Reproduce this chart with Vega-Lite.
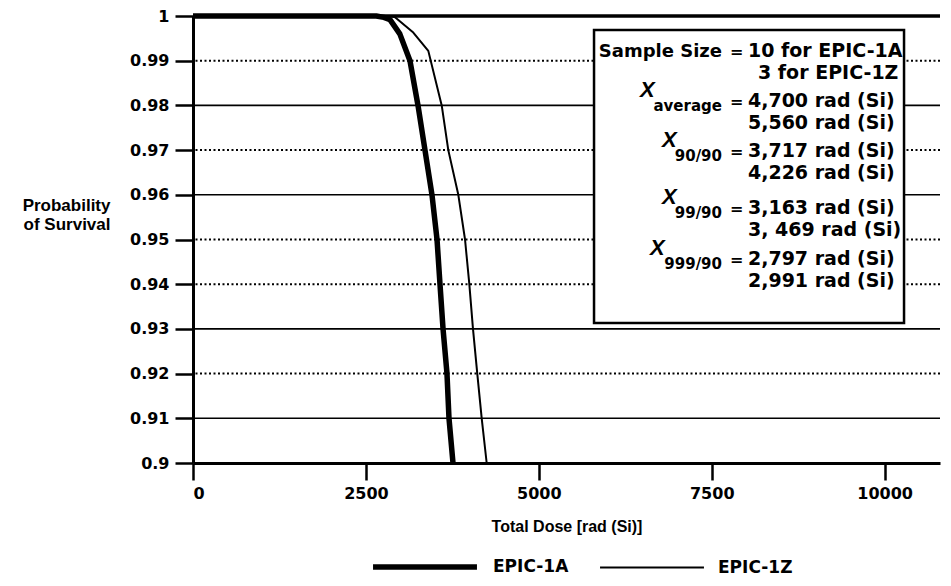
{
  "$schema": "https://vega.github.io/schema/vega-lite/v6.json",
  "width": 747,
  "height": 447,
  "autosize": {"type": "none"},
  "padding": {"left": 193, "top": 16, "right": 11, "bottom": 123},
  "background": "white",
  "config": {"view": {"stroke": null}},
  "datasets": {
    "curves": [
      {"series": "EPIC-1A", "dose": 0, "prob": 1},
      {"series": "EPIC-1A", "dose": 2650, "prob": 1},
      {"series": "EPIC-1A", "dose": 2760, "prob": 0.9997},
      {"series": "EPIC-1A", "dose": 2848, "prob": 0.9992},
      {"series": "EPIC-1A", "dose": 2990, "prob": 0.996},
      {"series": "EPIC-1A", "dose": 3137, "prob": 0.99},
      {"series": "EPIC-1A", "dose": 3253, "prob": 0.98},
      {"series": "EPIC-1A", "dose": 3354, "prob": 0.97},
      {"series": "EPIC-1A", "dose": 3455, "prob": 0.96},
      {"series": "EPIC-1A", "dose": 3528, "prob": 0.95},
      {"series": "EPIC-1A", "dose": 3571, "prob": 0.94},
      {"series": "EPIC-1A", "dose": 3615, "prob": 0.93},
      {"series": "EPIC-1A", "dose": 3672, "prob": 0.92},
      {"series": "EPIC-1A", "dose": 3701, "prob": 0.91},
      {"series": "EPIC-1A", "dose": 3759, "prob": 0.9},
      {"series": "EPIC-1Z", "dose": 0, "prob": 1},
      {"series": "EPIC-1Z", "dose": 2850, "prob": 1},
      {"series": "EPIC-1Z", "dose": 2921, "prob": 0.9997},
      {"series": "EPIC-1Z", "dose": 3185, "prob": 0.9963},
      {"series": "EPIC-1Z", "dose": 3402, "prob": 0.9922},
      {"series": "EPIC-1Z", "dose": 3596, "prob": 0.98},
      {"series": "EPIC-1Z", "dose": 3691, "prob": 0.97},
      {"series": "EPIC-1Z", "dose": 3836, "prob": 0.96},
      {"series": "EPIC-1Z", "dose": 3933, "prob": 0.95},
      {"series": "EPIC-1Z", "dose": 3995, "prob": 0.94},
      {"series": "EPIC-1Z", "dose": 4048, "prob": 0.93},
      {"series": "EPIC-1Z", "dose": 4110, "prob": 0.92},
      {"series": "EPIC-1Z", "dose": 4174, "prob": 0.91},
      {"series": "EPIC-1Z", "dose": 4246, "prob": 0.9}
    ],
    "dotted": [{"prob": 0.99}, {"prob": 0.97}, {"prob": 0.95}, {"prob": 0.94}, {"prob": 0.92}],
    "solid": [{"prob": 0.98}, {"prob": 0.96}, {"prob": 0.93}, {"prob": 0.91}],
    "top": [{"prob": 1}],
    "box": [{"dose": 5798, "dose2": 10280, "prob": 0.99687, "prob2": 0.93132}],
    "rightLabels": [{"t": "Sample Size", "dose": 7648, "prob": 0.99083}],
    "equals": [
      {"t": "=", "dose": 7764, "prob": 0.99083},
      {"t": "=", "dose": 7764, "prob": 0.97964},
      {"t": "=", "dose": 7764, "prob": 0.96846},
      {"t": "=", "dose": 7764, "prob": 0.95570},
      {"t": "=", "dose": 7764, "prob": 0.94430}
    ],
    "values": [
      {"t": "10 for EPIC-1A", "dose": 8024, "prob": 0.99083},
      {"t": "3 for EPIC-1Z", "dose": 8169, "prob": 0.98591},
      {"t": "4,700 rad (Si)", "dose": 8024, "prob": 0.97964},
      {"t": "5,560 rad (Si)", "dose": 8024, "prob": 0.97472},
      {"t": "3,717 rad (Si)", "dose": 8024, "prob": 0.96846},
      {"t": "4,226 rad (Si)", "dose": 8024, "prob": 0.96353},
      {"t": "3,163 rad (Si)", "dose": 8024, "prob": 0.95570},
      {"t": "3, 469 rad (Si)", "dose": 8024, "prob": 0.95078},
      {"t": "2,797 rad (Si)", "dose": 8024, "prob": 0.94430},
      {"t": "2,991 rad (Si)", "dose": 8024, "prob": 0.93937}
    ],
    "xs": [
      {"t": "X", "dose": 6463, "prob": 0.98188},
      {"t": "X", "dose": 6781, "prob": 0.97069},
      {"t": "X", "dose": 6781, "prob": 0.95794},
      {"t": "X", "dose": 6607, "prob": 0.94653}
    ],
    "subs": [
      {"t": "average", "dose": 7648, "prob": 0.97875},
      {"t": "90/90", "dose": 7648, "prob": 0.96756},
      {"t": "99/90", "dose": 7648, "prob": 0.95481},
      {"t": "999/90", "dose": 7648, "prob": 0.94340}
    ]
  },
  "layer": [
    {
      "data": {"name": "dotted"},
      "mark": {"type": "rule", "color": "black", "strokeWidth": 2, "strokeDash": [2, 2.5]},
      "encoding": {"y": {"field": "prob", "type": "quantitative"}}
    },
    {
      "data": {"name": "solid"},
      "mark": {"type": "rule", "color": "black", "strokeWidth": 1.6},
      "encoding": {"y": {"field": "prob", "type": "quantitative"}}
    },
    {
      "data": {"name": "top"},
      "mark": {"type": "rule", "color": "black", "strokeWidth": 3.5},
      "encoding": {"y": {"field": "prob", "type": "quantitative"}}
    },
    {
      "data": {"name": "curves"},
      "mark": {"type": "line", "color": "black", "strokeCap": "butt", "strokeJoin": "round"},
      "encoding": {
        "x": {
          "field": "dose", "type": "quantitative",
          "scale": {"domain": [0, 10800], "nice": false, "zero": false},
          "axis": {
            "title": "Total Dose [rad (Si)]",
            "values": [0, 2500, 5000, 7500, 10000],
            "format": "d",
            "grid": false,
            "domainColor": "black", "domainWidth": 3,
            "tickColor": "black", "tickWidth": 2.5, "tickSize": 17,
            "labelFont": "DejaVu Sans", "labelFontWeight": "bold", "labelFontSize": 16, "labelColor": "black",
            "labelPadding": 5,
            "titleFont": "Liberation Sans", "titleFontWeight": "bold", "titleFontSize": 16, "titleColor": "black",
            "titlePadding": 17
          }
        },
        "y": {
          "field": "prob", "type": "quantitative",
          "scale": {"domain": [0.9, 1], "nice": false, "zero": false},
          "axis": {
            "title": ["Probability", "of Survival"],
            "values": [0.9, 0.91, 0.92, 0.93, 0.94, 0.95, 0.96, 0.97, 0.98, 0.99, 1],
            "format": ".2~f",
            "grid": false,
            "domainColor": "black", "domainWidth": 3,
            "tickColor": "black", "tickWidth": 2.5, "tickSize": 18,
            "labelFont": "DejaVu Sans", "labelFontWeight": "bold", "labelFontSize": 16, "labelColor": "black",
            "labelPadding": 6,
            "titleFont": "Liberation Sans", "titleFontWeight": "bold", "titleFontSize": 17, "titleColor": "black",
            "titleAngle": 0, "titleAlign": "right", "titleBaseline": "alphabetic",
            "titleX": -83, "titleY": 194, "titleLineHeight": 19
          }
        },
        "detail": {"field": "series"},
        "strokeWidth": {
          "field": "series", "type": "nominal",
          "scale": {"domain": ["EPIC-1A", "EPIC-1Z"], "range": [5.5, 2]},
          "legend": {
            "orient": "none", "legendX": 177, "legendY": 496,
            "direction": "horizontal", "title": null,
            "symbolType": "stroke", "symbolSize": 10800, "symbolStrokeColor": "black",
            "labelFont": "DejaVu Sans", "labelFontWeight": "bold", "labelFontSize": 17, "labelColor": "black",
            "labelOffset": 13, "columnPadding": 27
          }
        }
      }
    },
    {
      "data": {"name": "box"},
      "mark": {"type": "rect", "fill": "white", "stroke": "black", "strokeWidth": 2.5},
      "encoding": {
        "x": {"field": "dose", "type": "quantitative"},
        "x2": {"field": "dose2"},
        "y": {"field": "prob", "type": "quantitative"},
        "y2": {"field": "prob2"}
      }
    },
    {
      "data": {"name": "rightLabels"},
      "mark": {"type": "text", "align": "right", "baseline": "alphabetic", "font": "DejaVu Sans", "fontWeight": "bold", "fontSize": 18, "color": "black"},
      "encoding": {
        "x": {"field": "dose", "type": "quantitative"},
        "y": {"field": "prob", "type": "quantitative"},
        "text": {"field": "t"}
      }
    },
    {
      "data": {"name": "equals"},
      "mark": {"type": "text", "align": "left", "baseline": "alphabetic", "font": "DejaVu Sans", "fontWeight": "bold", "fontSize": 16, "color": "black"},
      "encoding": {
        "x": {"field": "dose", "type": "quantitative"},
        "y": {"field": "prob", "type": "quantitative"},
        "text": {"field": "t"}
      }
    },
    {
      "data": {"name": "values"},
      "mark": {"type": "text", "align": "left", "baseline": "alphabetic", "font": "DejaVu Sans", "fontWeight": "bold", "fontSize": 19, "color": "black"},
      "encoding": {
        "x": {"field": "dose", "type": "quantitative"},
        "y": {"field": "prob", "type": "quantitative"},
        "text": {"field": "t"}
      }
    },
    {
      "data": {"name": "xs"},
      "mark": {"type": "text", "align": "left", "baseline": "alphabetic", "font": "Liberation Sans", "fontWeight": "bold", "fontStyle": "italic", "fontSize": 22, "color": "black"},
      "encoding": {
        "x": {"field": "dose", "type": "quantitative"},
        "y": {"field": "prob", "type": "quantitative"},
        "text": {"field": "t"}
      }
    },
    {
      "data": {"name": "subs"},
      "mark": {"type": "text", "align": "right", "baseline": "alphabetic", "font": "DejaVu Sans", "fontWeight": "bold", "fontSize": 15, "color": "black"},
      "encoding": {
        "x": {"field": "dose", "type": "quantitative"},
        "y": {"field": "prob", "type": "quantitative"},
        "text": {"field": "t"}
      }
    }
  ]
}
